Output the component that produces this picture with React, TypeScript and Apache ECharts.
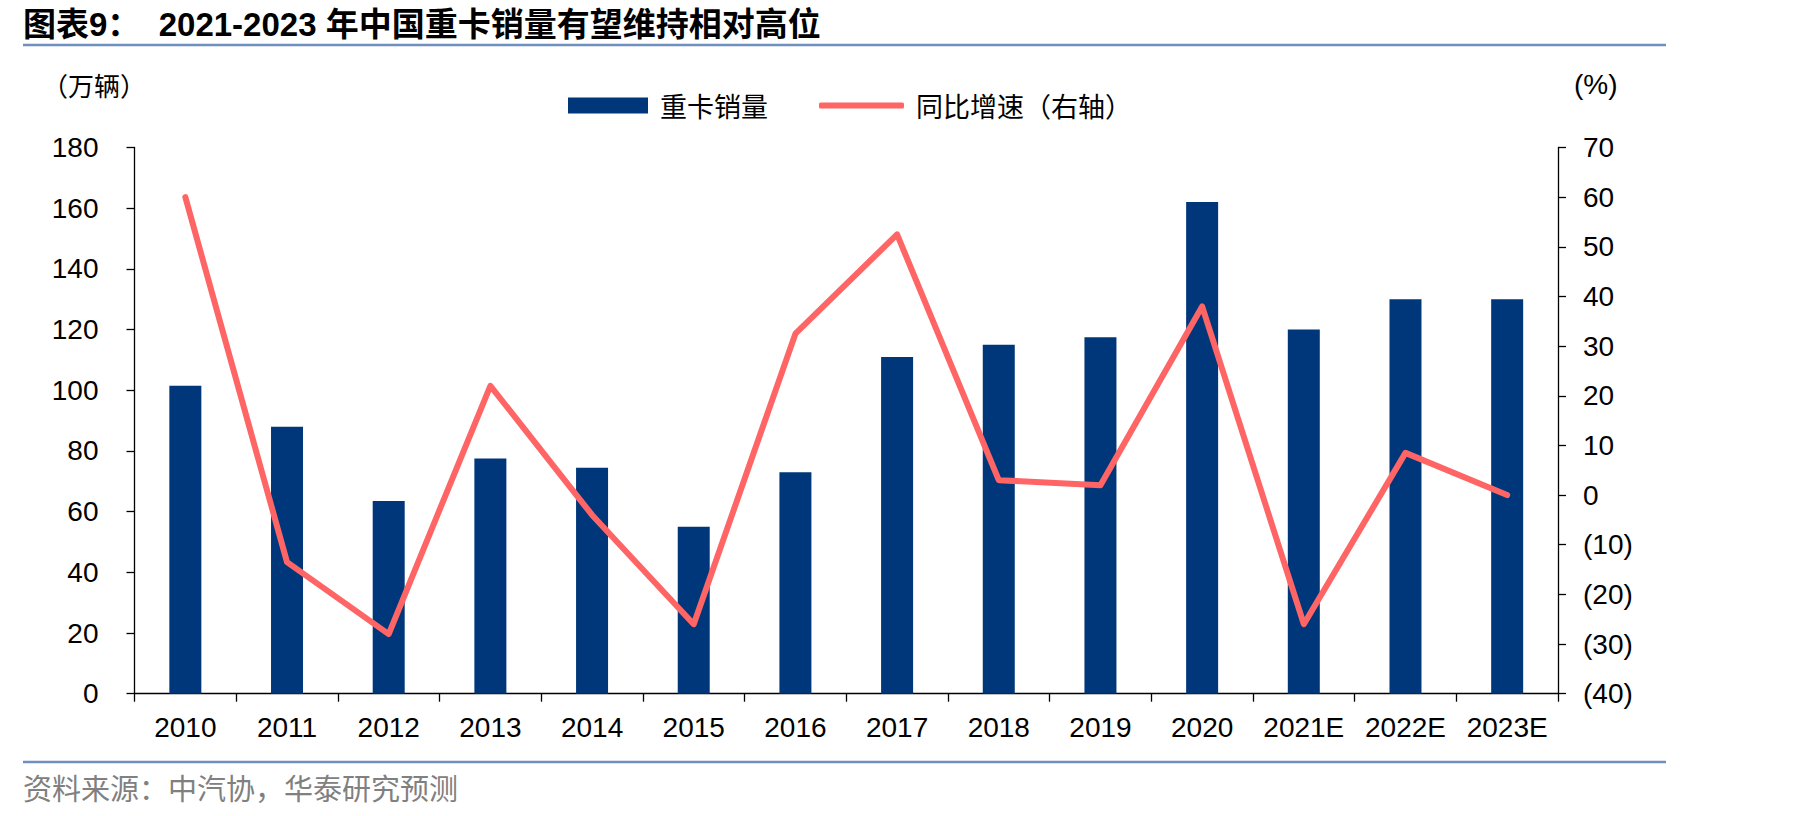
import React, { useEffect, useRef } from "react";
import * as echarts from "echarts";

const categories = ["2010", "2011", "2012", "2013", "2014", "2015", "2016", "2017", "2018", "2019", "2020", "2021E", "2022E", "2023E"];
const salesValues = [101.5, 88, 63.5, 77.5, 74.5, 55, 73, 111, 115, 117.5, 162, 120, 130, 130];
const growthValues = [60, -13.5, -28, 22, -4, -26, 32.5, 52.5, 3, 2, 38, -26, 8.5, 0];
const seriesNames = ["重卡销量", "同比增速（右轴）"];
const titleText = "图表9：  2021-2023 年中国重卡销量有望维持相对高位";
const leftUnit = "（万辆）";
const rightUnit = "(%)";
const sourceText = "资料来源：中汽协，华泰研究预测";

const LATIN = "'Liberation Sans', Arial, sans-serif";
const CJK = "'Noto Sans CJK SC', sans-serif";
const MIXED = "'Liberation Sans', 'Noto Sans CJK SC', sans-serif";

export default function App() {
  const ref = useRef<HTMLDivElement>(null);
  useEffect(() => {
    if (!ref.current) return;
    const chart = echarts.init(ref.current, undefined, { renderer: "svg" });
    const axisLine = { show: true, lineStyle: { color: "#000", width: 1.3 } };
    const axisTick = { show: true, length: 8, inside: false, lineStyle: { color: "#000", width: 1.3 } };
    const legendText = { fontFamily: CJK, fontSize: 27, color: "#000", padding: [0, 0, 0, 7] };
    chart.setOption({
      animation: false,
      backgroundColor: "#fff",
      grid: { left: 134.5, right: 261, top: 147.5, bottom: 122.3, containLabel: false },
      legend: [
        {
          data: [{ name: seriesNames[0], icon: "rect" }],
          left: 563,
          top: 87,
          itemWidth: 80,
          itemHeight: 16,
          textStyle: legendText,
        },
        {
          data: [{ name: seriesNames[1], icon: "roundRect" }],
          left: 814,
          top: 87,
          itemWidth: 85,
          itemHeight: 6,
          itemStyle: { color: "#FF6565" },
          textStyle: legendText,
        },
      ],
      xAxis: {
        type: "category",
        data: categories,
        boundaryGap: true,
        axisLine,
        axisTick: { ...axisTick, alignWithLabel: false, interval: 0 },
        axisLabel: { interval: 0, margin: 20, fontSize: 28, color: "#000", fontFamily: LATIN },
        splitLine: { show: false },
      },
      yAxis: [
        {
          type: "value",
          min: 0,
          max: 180,
          interval: 20,
          position: "left",
          axisLine,
          axisTick,
          splitLine: { show: false },
          axisLabel: { margin: 36, fontSize: 28, color: "#000", fontFamily: LATIN },
        },
        {
          type: "value",
          min: -40,
          max: 70,
          interval: 10,
          position: "right",
          axisLine,
          axisTick,
          splitLine: { show: false },
          axisLabel: {
            margin: 25,
            fontSize: 28,
            color: "#000",
            fontFamily: LATIN,
            formatter: (v: number) => (v < 0 ? `(${-v})` : `${v}`),
          },
        },
      ],
      series: [
        {
          name: seriesNames[0],
          type: "bar",
          data: salesValues,
          yAxisIndex: 0,
          barWidth: 32,
          itemStyle: { color: "#00377A" },
        },
        {
          name: seriesNames[1],
          type: "line",
          data: growthValues,
          yAxisIndex: 1,
          symbol: "none",
          showSymbol: false,
          lineStyle: { color: "#FF6565", width: 6, cap: "round", join: "round" },
          itemStyle: { color: "#FF6565" },
        },
      ],
      graphic: [
        {
          type: "text",
          x: 23,
          y: 24,
          style: { text: titleText, font: `bold 33px ${MIXED}`, fill: "#000", verticalAlign: "middle" },
        },
        {
          type: "line",
          shape: { x1: 23, y1: 45, x2: 1666, y2: 45 },
          style: { stroke: "#6F8FBE", lineWidth: 2.5 },
        },
        {
          type: "text",
          x: 42,
          y: 84,
          style: { text: leftUnit, font: `26px ${CJK}`, fill: "#000", verticalAlign: "middle" },
        },
        {
          type: "text",
          left: 1574,
          top: 70,
          style: { text: rightUnit, font: `28px ${LATIN}`, fill: "#000" },
        },
        {
          type: "line",
          shape: { x1: 23, y1: 762, x2: 1666, y2: 762 },
          style: { stroke: "#6F8FBE", lineWidth: 2.5 },
        },
        {
          type: "text",
          x: 23,
          y: 787,
          style: { text: sourceText, font: `29px ${CJK}`, fill: "#808080", verticalAlign: "middle" },
        },
      ],
    });
    return () => chart.dispose();
  }, []);
  return <div ref={ref} style={{ position: "absolute", left: 0, top: 0, width: 1819, height: 816 }} />;
}
